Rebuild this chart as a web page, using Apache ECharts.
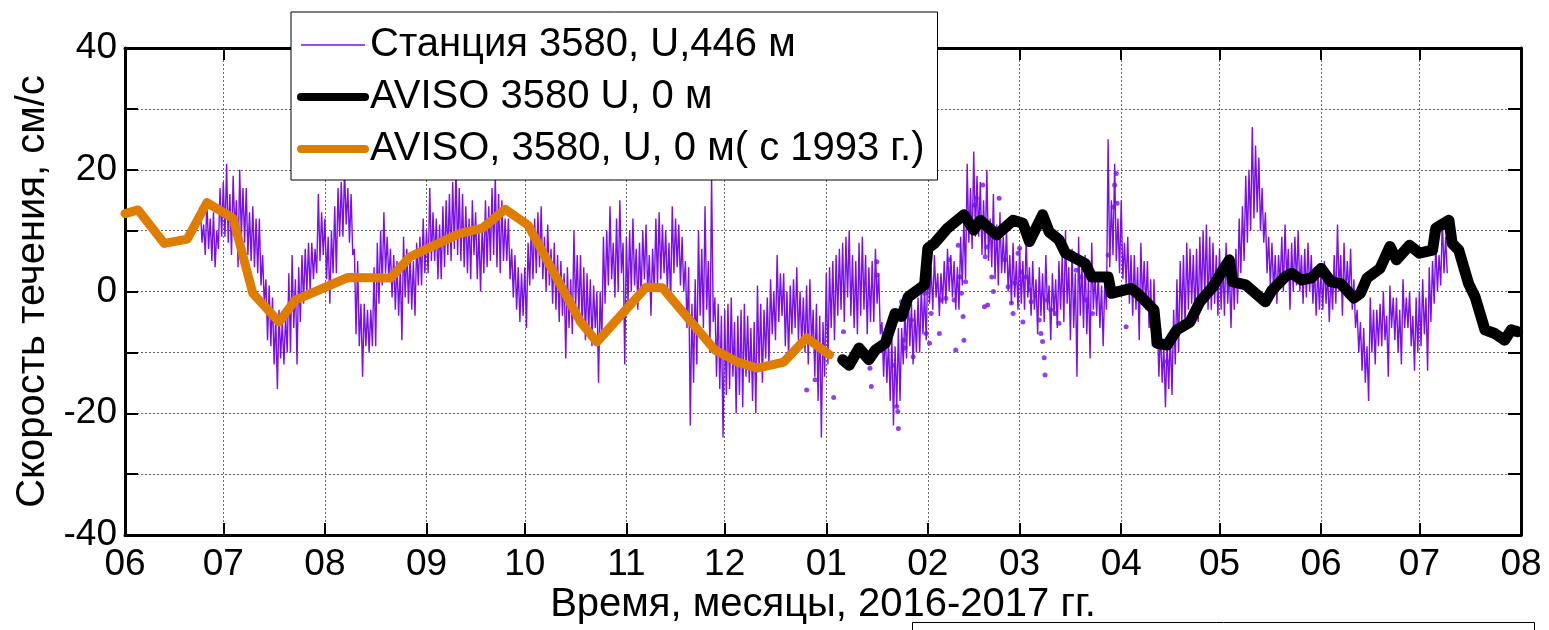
<!DOCTYPE html>
<html>
<head>
<meta charset="utf-8">
<script src="https://cdn.jsdelivr.net/npm/echarts@6/dist/echarts.min.js"></script>
<style>
  html, body { margin: 0; padding: 0; background: #fff; }
  #chart { width: 1549px; height: 630px; }
</style>
</head>
<body>
<div id="chart"></div>
<script>
// Station 3580, U component at 446 m: two readings per day (00:00 and 12:00)
const stJun16 = [14, 8, 11, 6, 15, 7, 12, 5, 13, 4, 10, 7, 17, 9];
const stJul16 = [18, 9, 21, 8, 16, 6, 19, 10, 15, 4, 20, 9, 17, 8, 17, 6, 13, 5, 14, 4, 12, 3, 12, 1, 6, -2, 2, -8, 1, -9, -1, -12, -4, -16, -3, -11, -5, -12, -4, -10, 3, -10, 6, -6, 2, -12, 4, -5, 6, -2, 7, 0, 8, 0, 8, 2, 7, 3, 16, 5, 13, 6];
const stAug16 = [12, 2, 9, -2, 10, 3, 14, 3, 17, 9, 18, 9, 20, 11, 17, 8, 16, 6, 7, -7, 5, -9, -2, -14, -2, -9, -3, -10, -3, -9, 4, -9, 8, -2, 10, 1, 13, 3, 9, 2, 7, -1, 6, -3, 5, -4, 4, -8, 9, -1, 7, -2, 6, -3, 5, -4, 8, 1, 9, 1, 12, 3];
const stSep16 = [10, 3, 17, 5, 13, 5, 12, 2, 11, 2, 14, 4, 15, 6, 16, 5, 18, 7, 20, 6, 17, 5, 16, 4, 14, 3, 12, 2, 15, 6, 13, 2, 10, 0, 11, 3, 15, 4, 14, 5, 17, 6, 19, 4, 16, 3, 15, 5, 12, 5, 12, 2, 7, -1, 6, -3, 4, -5, 3, -4];
const stOct16 = [4, -6, 8, 1, 11, 2, 12, 3, 13, 4, 14, 2, 9, 0, 11, 1, 7, -2, 8, -3, 6, -5, 5, -4, 3, -11, 4, -6, 2, -7, 10, -3, 6, -4, 6, -6, 4, -8, 3, -7, 2, -9, 1, -6, 0, -15, 0, -8, 9, -2, 10, 1, 14, 2, 8, -1, 12, 0, 15, 3, 8, -12];
const stNov16 = [9, -2, 10, 0, 12, 1, 7, -3, 8, -1, 10, 2, 11, 0, 6, -4, 7, 0, 12, 1, 13, 2, 11, 3, 10, 0, 8, -2, 14, 3, 12, 4, 11, 1, 9, 0, 5, -6, 4, -22, -2, -15, 2, -12, 10, -4, 7, -6, 14, -3, 5, -10, 19, -5, -1, -14, -2, -16, -4, -24];
const stDec16 = [-3, -17, -2, -16, -1, -14, -5, -20, -4, -17, -3, -19, -2, -14, -4, -15, -6, -18, -5, -20, 1, -13, -2, -15, -3, -11, -1, -12, 2, -7, 0, -8, 6, -5, 3, -4, 3, -9, 0, -11, 1, -7, 2, -6, 4, -8, 0, -9, -1, -10, 1, -12, 2, -9, -3, -14, -2, -18, -4, -24, -5, -14];
const stJan17 = [3, -12, 4, -6, 5, -8, 6, -4, 7, -3, 8, -5, 9, -1, 10, -4, 6, -6, 5, -7, 8, -4, 9, -3, 6, -7, 4, -5, 5, -5, 7, -2, 3, -7, -5, -14, -6, -15, -8, -18, -7, -22, -9, -19, -6, -18, -6, -12, -3, -11, 0, -9, -2, -12, -3, -10, -1, -10, 1, -7, 0, -8];
const stFeb17 = [5, -2, 4, -3, 6, -1, 3, -4, 3, -2, 5, -2, 7, 0, 6, -1, 5, -3, 4, -3, 9, 1, 12, 2, 21, 8, 17, 7, 23, 9, 19, 9, 18, 6, 15, 6, 20, 5, 12, 4, 16, 2, 11, 1, 13, 3, 9, 3, 10, 0, 6, -2, 8, -1, 5, -3];
const stMar17 = [7, -2, 5, -3, 9, -1, 4, -4, 5, -3, 2, -7, 4, -4, 3, -5, 6, -3, 1, -8, 3, -4, 2, -6, 5, -3, 6, -5, 10, -2, 4, -8, 7, -6, 3, -14, 9, -4, 5, -6, 6, -7, 2, -11, 8, -3, 3, -4, 3, -6, 1, -9, 2, -3, 25, 4, 15, 6, 21, 5, 12, 3];
const stApr17 = [15, 2, 8, 1, 9, -2, 6, -4, 6, -3, 4, -8, 8, -2, 5, -3, 5, -6, 2, -9, 2, -8, -4, -14, -6, -15, -9, -19, -8, -16, -7, -17, -3, -12, 2, -10, 5, -5, 6, -6, 8, -3, 7, -2, 6, -4, 7, -5, 9, -2, 10, -1, 11, -3, 9, -3, 8, -2, 6, -4];
const stMay17 = [7, -3, 5, -4, 8, -2, 4, -6, 5, -3, 7, -2, 12, 3, 14, 5, 19, 8, 20, 10, 27, 12, 24, 13, 22, 10, 17, 8, 13, 3, 9, 1, 8, 0, 6, -2, 6, 1, 9, 0, 11, 2, 7, -3, 8, 0, 9, 1, 10, 0, 6, -2, 7, -1, 8, 0, 6, -2, 4, -4, 4, -3];
const stJun17 = [4, -3, 5, -2, 3, -5, 3, -3, 6, -2, 11, 0, 6, -4, 8, -1, 5, -1, 7, -3, 2, -6, -3, -10, -5, -13, -6, -15, -9, -18, -1, -10, -3, -12, -3, -9, -2, -9, 0, -8, -4, -14, 1, -6, -1, -8, -1, -10, -3, -12, 2, -6, -1, -6, 0, -9, -4, -13, -1, -10];
const stJul17 = [0, -9, 2, -7, -1, -13, 4, -5, 5, -2, 8, 0, 6, 1, 12, 3, 9, 3];

// [year, month (0-based), first day, readings]
const stationBlocks = [
  [2016, 5, 24, stJun16], [2016, 6, 1, stJul16], [2016, 7, 1, stAug16],
  [2016, 8, 1, stSep16], [2016, 9, 1, stOct16], [2016, 10, 1, stNov16],
  [2016, 11, 1, stDec16], [2017, 0, 1, stJan17], [2017, 1, 1, stFeb17],
  [2017, 2, 1, stMar17], [2017, 3, 1, stApr17], [2017, 4, 1, stMay17],
  [2017, 5, 1, stJun17], [2017, 6, 1, stJul17]
];

// isolated station samples (gaps in the record)
const stationDots = [
  ['2016-12-26 00:00', -16.2], ['2016-12-28 14:00', -14.5], ['2017-01-03 06:00', -17.4],
  ['2017-01-06 06:00', -6.6], ['2017-01-14 08:00', -12.6], ['2017-01-14 18:00', -15.6],
  ['2017-01-16 10:00', 4.9], ['2017-01-16 12:00', 2.7], ['2017-01-21 12:00', -12.1],
  ['2017-01-22 12:00', -18.9], ['2017-01-22 20:00', -19.7], ['2017-01-23 00:00', -22.5],
  ['2017-01-24 00:00', -1.7], ['2017-01-24 12:00', -8.0], ['2017-01-25 00:00', -9.3],
  ['2017-01-27 00:00', -4.7], ['2017-01-27 12:00', -10.7], ['2017-01-31 00:00', -0.3],
  ['2017-01-31 12:00', -6.9], ['2017-02-01 12:00', -8.5], ['2017-02-02 00:00', -3.6],
  ['2017-02-04 12:00', -6.9], ['2017-02-05 00:00', -1.4], ['2017-02-06 12:00', -1.1],
  ['2017-02-07 12:00', 5.2], ['2017-02-09 00:00', -1.4], ['2017-02-09 12:00', -9.6],
  ['2017-02-10 06:00', 7.6], ['2017-02-10 18:00', 2.4], ['2017-02-11 06:00', -0.3],
  ['2017-02-11 18:00', -4.1], ['2017-02-12 00:00', -8.0], ['2017-02-12 12:00', 1.6],
  ['2017-02-15 06:00', 14.2], ['2017-02-15 18:00', 15.3], ['2017-02-17 18:00', 17.5],
  ['2017-02-18 06:00', -2.5], ['2017-02-18 12:00', 5.7], ['2017-02-19 00:00', 7.3],
  ['2017-02-19 06:00', -2.2], ['2017-02-20 12:00', 2.4], ['2017-02-21 00:00', 0.0],
  ['2017-02-22 18:00', 15.3], ['2017-02-24 12:00', 5.2], ['2017-02-25 12:00', 0.8],
  ['2017-02-26 12:00', -1.9], ['2017-02-27 00:00', -3.6], ['2017-02-27 12:00', 1.4],
  ['2017-02-28 12:00', 6.3], ['2017-03-01 00:00', 7.1], ['2017-03-01 12:00', 3.2],
  ['2017-03-02 00:00', -5.0], ['2017-03-03 00:00', 2.4], ['2017-03-04 00:00', 0.3],
  ['2017-03-04 12:00', -1.7], ['2017-03-07 00:00', -4.7], ['2017-03-07 12:00', -6.9],
  ['2017-03-08 00:00', -8.2], ['2017-03-08 12:00', -10.9], ['2017-03-08 18:00', -13.7],
  ['2017-03-09 12:00', -1.4], ['2017-03-10 12:00', -3.0], ['2017-03-12 00:00', -3.6],
  ['2017-03-13 00:00', -5.2], ['2017-03-17 06:00', 6.3], ['2017-03-18 06:00', 3.5],
  ['2017-03-19 18:00', 2.4], ['2017-03-21 06:00', -1.4], ['2017-03-23 06:00', -3.6],
  ['2017-03-28 00:00', 6.0], ['2017-03-29 12:00', 13.9], ['2017-03-30 00:00', 17.5],
  ['2017-03-30 12:00', 19.4], ['2017-03-30 18:00', 14.5], ['2017-04-02 12:00', -5.8],
  ['2017-04-03 12:00', 0.8], ['2017-04-15 00:00', -11.5]
];

// AVISO, surface (0 m), 2017 record
const avisoDates = [
  '2017-01-06', '2017-01-08', '2017-01-11', '2017-01-14', '2017-01-16', '2017-01-19', '2017-01-22',
  '2017-01-24', '2017-01-26', '2017-01-31', '2017-02-01', '2017-02-03', '2017-02-07', '2017-02-12',
  '2017-02-15', '2017-02-17', '2017-02-22', '2017-02-27', '2017-03-02', '2017-03-04', '2017-03-08',
  '2017-03-10', '2017-03-13', '2017-03-15', '2017-03-21', '2017-03-23', '2017-03-28', '2017-03-29',
  '2017-04-04', '2017-04-06', '2017-04-11', '2017-04-12', '2017-04-15', '2017-04-18', '2017-04-22',
  '2017-04-25', '2017-04-29', '2017-05-02', '2017-05-04', '2017-05-05', '2017-05-09', '2017-05-12',
  '2017-05-15', '2017-05-17', '2017-05-21', '2017-05-23', '2017-05-26', '2017-05-29', '2017-06-01',
  '2017-06-04', '2017-06-07', '2017-06-11', '2017-06-13', '2017-06-15', '2017-06-19', '2017-06-22',
  '2017-06-24', '2017-06-28', '2017-07-01', '2017-07-05', '2017-07-06', '2017-07-10', '2017-07-11',
  '2017-07-13', '2017-07-16', '2017-07-18', '2017-07-21', '2017-07-24', '2017-07-27', '2017-07-29',
  '2017-07-31'
];
const avisoValues = [
  -11.2, -12.1, -9.3, -11.2, -9.6, -8.5, -3.6,
  -4.1, -0.9, 1.1, 7.1, 7.9, 10.4, 12.6,
  10.1, 11.7, 9.3, 11.7, 11.2, 8.2, 12.6,
  9.8, 8.5, 6.3, 4.6, 2.4, 2.4, -0.3,
  0.5, -0.3, -3.0, -8.5, -8.8, -6.3, -5.0,
  -1.7, 0.8, 3.5, 5.2, 1.6, 1.1, -0.3,
  -1.7, 0.2, 2.4, 3.0, 1.9, 2.2, 3.8,
  1.6, 1.3, -1.1, -0.3, 2.2, 3.8, 7.4,
  5.2, 7.6, 6.3, 6.8, 10.4, 11.7, 7.9,
  6.8, 1.3, -0.9, -6.3, -6.9, -8.0, -6.3,
  -6.6
];

// AVISO, surface (0 m), series since 1993: 2016 part
const avisoLongDates = [
  '2016-06-01', '2016-06-05', '2016-06-13', '2016-06-20', '2016-06-26', '2016-07-04', '2016-07-10',
  '2016-07-18', '2016-07-23', '2016-08-08', '2016-08-21', '2016-08-27', '2016-09-11', '2016-09-18',
  '2016-09-25', '2016-10-02', '2016-10-18', '2016-10-23', '2016-11-07', '2016-11-12', '2016-11-28',
  '2016-12-05', '2016-12-11', '2016-12-19', '2016-12-26', '2017-01-02'
];
const avisoLongValues = [
  12.8, 13.4, 7.9, 8.6, 14.6, 12.0, -0.3,
  -5.0, -1.4, 2.3, 2.2, 5.7, 9.5, 10.4,
  13.5, 10.9, -5.0, -8.3, 0.7, 0.6, -9.6,
  -11.6, -12.6, -11.6, -7.6, -10.4
];

const yTickLabels = [-40, -20, 0, 20, 40];

const NAME_STATION = 'Станция 3580, U,446 м';
const NAME_AVISO = 'AVISO 3580 U, 0 м';
const NAME_AVISO_LONG = 'AVISO, 3580, U, 0 м( с 1993 г.)';

const PURPLE = '#7a10e8';
const ORANGE = '#de7d00';
const FONT = "'Liberation Sans', Arial, Helvetica, sans-serif";

const stationData = [];
stationBlocks.forEach(([y, m, d0, vals]) => {
  vals.forEach((v, j) => {
    stationData.push([new Date(y, m, d0 + Math.floor(j / 2), (j % 2) * 12).getTime(), v]);
  });
});

const zip = (a, b) => a.map((x, i) => [x, b[i]]);

const chart = echarts.init(document.getElementById('chart'), null, { renderer: 'canvas' });

const month = 30 * 24 * 3600 * 1000;
const xCommon = {
  type: 'time',
  min: '2016-06-01',
  max: '2017-08-01',
  minInterval: month,
  maxInterval: month,
  axisLine: { show: true, onZero: false, lineStyle: { color: '#000', width: 3 } },
  axisTick: { show: true, inside: true, length: 12, lineStyle: { color: '#000', width: 2 } }
};
const yCommon = {
  type: 'value',
  min: -40,
  max: 40,
  interval: 10,
  axisLine: { show: true, onZero: false, lineStyle: { color: '#000', width: 3 } },
  axisTick: { show: true, inside: true, length: 13, lineStyle: { color: '#000', width: 2 } }
};
const hiddenSymbol = { color: 'rgba(0,0,0,0)', borderWidth: 0, opacity: 0 };
const gridLine = { show: true, lineStyle: { color: '#666', width: 1, type: [2, 2] } };

chart.setOption({
  animation: false,
  backgroundColor: '#fff',
  textStyle: { fontFamily: FONT },
  grid: { left: 125, right: 28, top: 48, bottom: 95, containLabel: false },
  legend: {
    data: [
      { name: NAME_STATION, lineStyle: { width: 1.5, color: PURPLE }, itemStyle: hiddenSymbol },
      { name: NAME_AVISO, lineStyle: { width: 8, color: '#000' }, itemStyle: hiddenSymbol },
      { name: NAME_AVISO_LONG, lineStyle: { width: 8, color: ORANGE }, itemStyle: hiddenSymbol }
    ],
    orient: 'vertical',
    left: 291,
    top: 12,
    itemWidth: 64,
    itemHeight: 44,
    itemGap: 8,
    padding: [11, 13, 9, 6],
    backgroundColor: '#fff',
    borderColor: '#000',
    borderWidth: 1,
    borderRadius: 0,
    selectedMode: false,
    textStyle: { fontFamily: FONT, fontSize: 40, lineHeight: 44, color: '#000' }
  },
  xAxis: [
    Object.assign({}, xCommon, {
      position: 'bottom',
      name: 'Время, месяцы, 2016-2017 гг.',
      nameLocation: 'middle',
      nameGap: 50,
      nameMoveOverlap: false,
      nameTextStyle: { fontFamily: FONT, fontSize: 40, color: '#000' },
      axisLabel: {
        show: true, formatter: '{MM}', color: '#000', fontSize: 37, fontFamily: FONT,
        margin: 11, showMinLabel: true, showMaxLabel: true, hideOverlap: false
      },
      splitLine: gridLine
    }),
    Object.assign({}, xCommon, {
      position: 'top',
      axisLabel: { show: false },
      splitLine: { show: false }
    })
  ],
  yAxis: [
    Object.assign({}, yCommon, {
      position: 'left',
      name: 'Скорость течения, см/с',
      nameLocation: 'middle',
      nameGap: 72,
      nameRotate: 90,
      nameMoveOverlap: false,
      nameTextStyle: { fontFamily: FONT, fontSize: 40, color: '#000' },
      axisLabel: {
        color: '#000', fontSize: 37, fontFamily: FONT, margin: 8,
        formatter: v => (yTickLabels.indexOf(v) >= 0 ? String(v) : '')
      },
      splitLine: gridLine
    }),
    Object.assign({}, yCommon, {
      position: 'right',
      axisLabel: { show: false },
      splitLine: { show: false }
    })
  ],
  series: [
    {
      name: NAME_STATION,
      type: 'line',
      data: stationData,
      showSymbol: false,
      symbol: 'none',
      lineStyle: { color: PURPLE, width: 1.4 },
      itemStyle: { color: PURPLE },
      z: 2
    },
    {
      name: NAME_STATION,
      type: 'scatter',
      data: stationDots,
      symbol: 'circle',
      symbolSize: 5,
      itemStyle: { color: PURPLE },
      z: 2
    },
    {
      name: NAME_AVISO_LONG,
      type: 'line',
      data: zip(avisoLongDates, avisoLongValues),
      showSymbol: false,
      symbol: 'none',
      lineStyle: { color: ORANGE, width: 9, cap: 'round', join: 'round' },
      itemStyle: { color: ORANGE },
      z: 3
    },
    {
      name: NAME_AVISO,
      type: 'line',
      data: zip(avisoDates, avisoValues),
      showSymbol: false,
      symbol: 'none',
      lineStyle: { color: '#000', width: 11, cap: 'round', join: 'round' },
      itemStyle: { color: '#000' },
      z: 4
    }
  ],
  graphic: [
    {
      type: 'rect',
      silent: true,
      shape: { x: 912.5, y: 622.5, width: 622, height: 40 },
      style: { fill: '#fff', stroke: '#000', lineWidth: 1 }
    }
  ]
});
</script>
</body>
</html>
